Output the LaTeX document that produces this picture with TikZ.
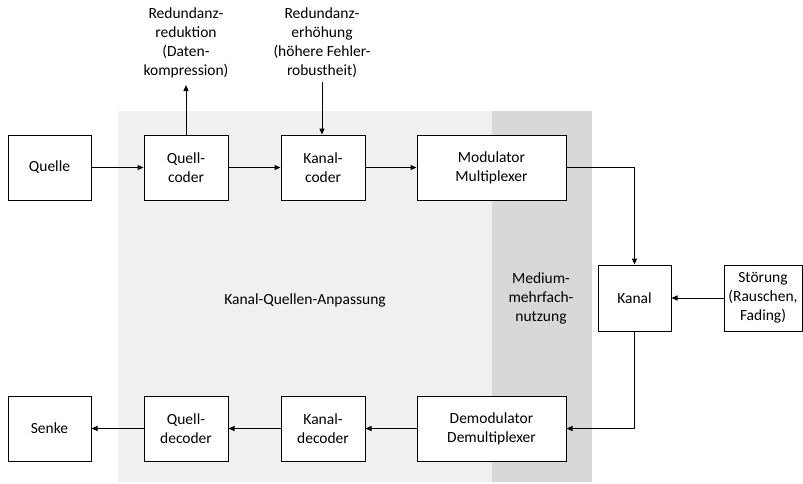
\documentclass[tikz,border=0pt]{standalone}
\usepackage{fontspec}
\setmainfont{Carlito}
\usetikzlibrary{arrows.meta}
\definecolor{lightbg}{RGB}{240,240,240}
\definecolor{darkbg}{RGB}{216,216,216}
\begin{document}
\begin{tikzpicture}[x=1pt,y=-1pt,
  every node/.style={font=\fontsize{15.5}{19}\selectfont, align=center},
  box/.style={draw=black, line width=1pt, fill=white, minimum height=65pt, inner sep=0pt},
  conn/.style={line width=1pt, -{Triangle[length=6pt,width=5pt]}},
  plain/.style={line width=1pt}]
\useasboundingbox (0,0) rectangle (803,483);
% backgrounds
\fill[lightbg] (118,111) rectangle (492,482);
\fill[darkbg] (492,111) rectangle (592,482);
\node (kqa) at (305,300) {Kanal-Quellen-Anpassung};
\node (med) at (541,298) {Medium-\\mehrfach-\\nutzung};
% boxes
\node[box, minimum width=83pt] (quelle) at (49.5,167.5) {Quelle};
\node[box, minimum width=84pt] (qc) at (186,167.5) {Quell-\\coder};
\node[box, minimum width=84pt] (kc) at (323,167.5) {Kanal-\\coder};
\node[box, minimum width=149pt] (mod) at (491.5,167.5) {Modulator\\Multiplexer};
\node[box, minimum width=73pt, minimum height=66pt] (kanal) at (634.5,298) {Kanal};
\node[box, minimum width=78pt, minimum height=66pt] (stoer) at (763,298) {Störung\\(Rauschen,\\Fading)};
\node[box, minimum width=83pt] (senke) at (49.5,428.5) {Senke};
\node[box, minimum width=84pt] (qd) at (186,428.5) {Quell-\\decoder};
\node[box, minimum width=84pt] (kd) at (323,428.5) {Kanal-\\decoder};
\node[box, minimum width=149pt] (demod) at (491.5,428.5) {Demodulator\\Demultiplexer};
% top labels
\node (red1) at (186,42.5) {Redundanz-\\reduktion\\(Daten-\\kompression)};
\node (red2) at (322,42.5) {Redundanz-\\erhöhung\\(höhere Fehler-\\robustheit)};
\coordinate (tipA) at (186,85);
\coordinate (startB) at (322,82);
% connectors
\draw[conn] (quelle) -- (qc);
\draw[conn] (qc) -- (kc);
\draw[conn] (kc) -- (mod);
\draw[conn] (mod.east) -| (kanal.north);
\draw[conn] (stoer) -- (kanal);
\draw[conn] (kanal.south) |- (demod.east);
\draw[conn] (demod) -- (kd);
\draw[conn] (kd) -- (qd);
\draw[conn] (qd) -- (senke);
\draw[conn] (qc.north) -- (tipA);
\draw[conn] (startB) -- (startB |- kc.north);
\end{tikzpicture}
\end{document}
